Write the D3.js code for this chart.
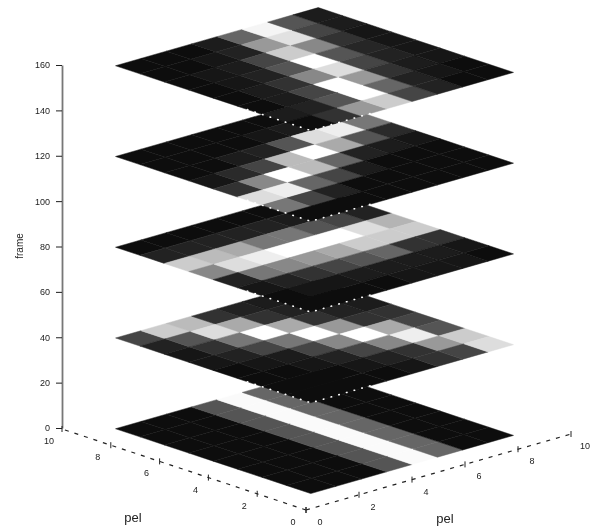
<!DOCTYPE html>
<html lang="en">
<head>
    <meta charset="UTF-8">
    <script src="https://d3js.org/d3.v7.min.js"></script>
    <style>
        html, body { margin: 0; padding: 0; background: #fff; }
        svg { display: block; }
        text { font-family: "Liberation Sans", Arial, sans-serif; fill: #222; }
    </style>
</head>
<body>
    <svg id="chart" width="592" height="532"></svg>
    <script>
        // grey level per cell, frame[row][col]
        const frame0 = [
            [17, 17, 17, 85, 250, 102, 17, 17],
            [17, 17, 17, 85, 250, 102, 17, 17],
            [17, 17, 17, 85, 250, 102, 17, 17],
            [17, 17, 17, 85, 250, 102, 17, 17],
            [17, 17, 17, 85, 250, 102, 17, 17],
            [17, 17, 17, 85, 250, 102, 17, 17],
            [17, 17, 17, 85, 250, 102, 17, 17],
            [17, 17, 17, 85, 250, 102, 17, 17]
        ];
        const frame40 = [
            [68, 204, 187, 51, 34, 26, 26, 26],
            [34, 85, 221, 170, 51, 34, 26, 26],
            [24, 51, 119, 255, 170, 51, 34, 26],
            [20, 34, 68, 119, 255, 153, 51, 51],
            [17, 20, 26, 68, 136, 255, 170, 68],
            [17, 17, 20, 34, 68, 136, 238, 85],
            [17, 17, 17, 20, 34, 51, 153, 204],
            [17, 17, 17, 17, 20, 51, 68, 221]
        ];
        const frame80 = [
            [17, 17, 17, 17, 17, 17, 17, 17],
            [34, 34, 34, 34, 34, 30, 26, 26],
            [204, 187, 170, 119, 119, 85, 68, 34],
            [136, 221, 238, 255, 255, 255, 221, 180],
            [34, 119, 136, 153, 170, 204, 204, 204],
            [20, 34, 51, 68, 85, 102, 51, 51],
            [17, 20, 24, 26, 26, 26, 26, 24],
            [17, 17, 17, 17, 20, 20, 20, 17]
        ];
        const frame120 = [
            [17, 17, 17, 17, 17, 17, 17, 17],
            [17, 17, 17, 17, 20, 26, 34, 26],
            [17, 17, 26, 34, 85, 221, 238, 119],
            [20, 42, 68, 187, 255, 170, 85, 42],
            [51, 136, 255, 187, 102, 34, 26, 20],
            [221, 238, 102, 68, 26, 17, 17, 17],
            [119, 68, 34, 17, 17, 17, 17, 17],
            [17, 17, 17, 17, 17, 17, 17, 17]
        ];
        const frame160 = [
            [17, 17, 17, 26, 102, 245, 85, 26],
            [17, 17, 20, 34, 153, 225, 68, 26],
            [17, 20, 26, 68, 204, 136, 51, 24],
            [17, 20, 34, 85, 255, 85, 40, 20],
            [17, 26, 51, 136, 221, 68, 34, 24],
            [17, 26, 68, 255, 153, 51, 26, 20],
            [26, 34, 85, 255, 102, 34, 20, 17],
            [17, 51, 153, 204, 68, 34, 17, 17]
        ];
        const frames = [frame0, frame40, frame80, frame120, frame160];
        const frameTimes = [0, 40, 80, 120, 160];

        const zTicks = [0, 20, 40, 60, 80, 100, 120, 140, 160];
        const xTicks = [0, 2, 4, 6, 8, 10];
        const yTicks = [0, 2, 4, 6, 8, 10];

        const svg = d3.select("#chart");

        // oblique projection, one linear scale per screen component
        const xToSx = d3.scaleLinear().domain([0, 10]).range([0, 265]);
        const xToSy = d3.scaleLinear().domain([0, 10]).range([0, -76]);
        const yToSx = d3.scaleLinear().domain([0, 10]).range([0, -244]);
        const yToSy = d3.scaleLinear().domain([0, 10]).range([0, -81]);
        const zPos = d3.scaleLinear().domain([0, 160]).range([428, 65]);
        const origin = [306, 510];

        function project(x, y, z) {
            return [
                origin[0] + xToSx(x) + yToSx(y),
                origin[1] + xToSy(x) + yToSy(y) + zPos(z) - zPos(0)
            ];
        }

        // cell index -> data coordinate on the planes
        const colX = d3.scaleLinear().domain([0, 8]).range([1.1, 8.75]);
        const rowY = d3.scaleLinear().domain([0, 8]).range([9, 1]);
        const grey = d3.scaleLinear().domain([0, 255]).range(["#000", "#fff"]);

        const defs = svg.append("defs");
        defs.append("filter").attr("id", "soft")
            .append("feGaussianBlur").attr("stdDeviation", 0.7);
        defs.append("filter").attr("id", "softText")
            .append("feGaussianBlur").attr("stdDeviation", 0.45);

        const line = d3.line();

        // planes, lowest first so the upper ones cover them
        const planes = svg.append("g").attr("filter", "url(#soft)");
        frames.forEach((frame, f) => {
            const z = frameTimes[f];
            const g = planes.append("g");
            frame.forEach((row, r) => {
                row.forEach((v, c) => {
                    const pts = [
                        project(colX(c), rowY(r), z),
                        project(colX(c + 1), rowY(r), z),
                        project(colX(c + 1), rowY(r + 1), z),
                        project(colX(c), rowY(r + 1), z)
                    ];
                    g.append("path")
                        .attr("d", line(pts) + "Z")
                        .attr("fill", grey(v))
                        .attr("stroke", grey(v))
                        .attr("stroke-width", 0.5);
                });
            });
            // dotted front edge of the plane
            g.append("path")
                .attr("d", line([
                    project(colX(0), rowY(8 - 2.6), z),
                    project(colX(0), rowY(8), z),
                    project(colX(2.6), rowY(8), z)
                ]))
                .attr("fill", "none")
                .attr("stroke", f > 0 ? "#fff" : "none")
                .attr("stroke-width", 1.6)
                .attr("stroke-linecap", "round")
                .attr("stroke-dasharray", "0.5,7.5");
        });

        const axes = svg.append("g").attr("filter", "url(#softText)");

        // z axis
        const zAxis = axes.append("g")
            .attr("transform", "translate(62,0)")
            .call(d3.axisLeft(zPos).tickValues(zTicks).tickSize(6).tickSizeOuter(0));
        zAxis.select(".domain").attr("stroke", "#777").attr("stroke-width", 1.8);
        zAxis.selectAll(".tick line").attr("stroke", "#222");
        zAxis.selectAll(".tick text")
            .attr("x", -12)
            .style("font-size", "9px")
            .style("font-family", '"Liberation Sans", Arial, sans-serif');

        axes.append("text")
            .attr("transform", "translate(23,246) rotate(-90)")
            .attr("text-anchor", "middle")
            .style("font-size", "10px")
            .text("frame");

        // floor axes, dashed
        [[[0, 0], [10, 0]], [[0, 0], [0, 10]]].forEach(seg => {
            axes.append("path")
                .attr("d", line(seg.map(d => project(d[0], d[1], 0))))
                .attr("fill", "none")
                .attr("stroke", "#222")
                .attr("stroke-width", 1.2)
                .attr("stroke-dasharray", "4,6");
        });

        xTicks.forEach(t => {
            const p = project(t, 0, 0);
            axes.append("line")
                .attr("x1", p[0]).attr("x2", p[0])
                .attr("y1", p[1] - 3).attr("y2", p[1] + 3)
                .attr("stroke", "#222");
            axes.append("text")
                .attr("x", p[0] + 14).attr("y", p[1] + 15)
                .attr("text-anchor", "middle")
                .style("font-size", "9px")
                .text(t);
        });
        yTicks.forEach(t => {
            const p = project(0, t, 0);
            axes.append("line")
                .attr("x1", p[0]).attr("x2", p[0])
                .attr("y1", p[1] - 3).attr("y2", p[1] + 3)
                .attr("stroke", "#222");
            axes.append("text")
                .attr("x", p[0] - 13).attr("y", p[1] + 15)
                .attr("text-anchor", "middle")
                .style("font-size", "9px")
                .text(t);
        });

        axes.append("text")
            .attr("x", 133).attr("y", 522)
            .attr("text-anchor", "middle")
            .style("font-size", "13px")
            .text("pel");
        axes.append("text")
            .attr("x", 445).attr("y", 523)
            .attr("text-anchor", "middle")
            .style("font-size", "13px")
            .text("pel");
    </script>
</body>
</html>
